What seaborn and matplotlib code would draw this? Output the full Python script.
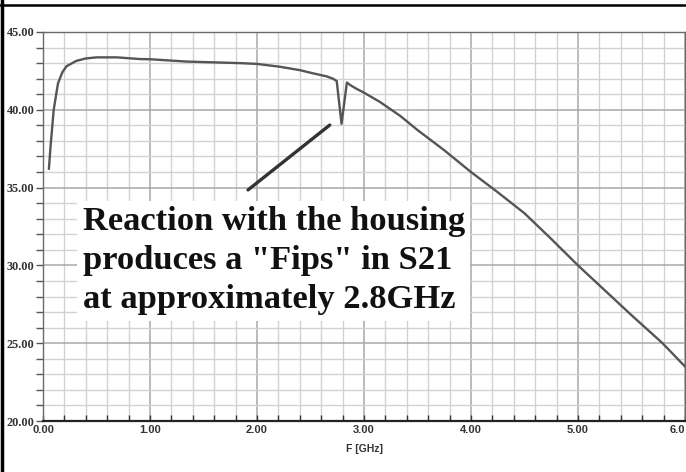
"""
S21 plot with the housing resonance ("Fips") near 2.8 GHz.
"""

#Libraries
import matplotlib
matplotlib.use("Agg")
import numpy as np
import pandas as pd
import matplotlib.pyplot as plt
import seaborn as sns
from matplotlib.ticker import MultipleLocator, FormatStrFormatter
from matplotlib.lines import Line2D

#Data.
freq_ghz = [0.055, 0.07, 0.1, 0.14, 0.18, 0.22, 0.31, 0.4, 0.5, 0.69, 0.91, 1.0, 1.34,
            1.84, 2.0, 2.21, 2.4, 2.52, 2.65, 2.71, 2.745, 2.79, 2.84, 2.88, 2.93,
            3.0, 3.15, 3.34, 3.5, 3.75, 4.0, 4.25, 4.5, 4.75, 5.0, 5.25, 5.5,
            5.79, 6.0]
s21_db = [36.2, 37.6, 40.0, 41.7, 42.4, 42.8, 43.14, 43.3, 43.37, 43.37, 43.26, 43.25, 43.1,
          43.0, 42.95, 42.77, 42.55, 42.35, 42.15, 42.0, 41.85, 39.1, 41.75, 41.55, 41.35,
          41.1, 40.5, 39.6, 38.7, 37.4, 36.0, 34.7, 33.35, 31.7, 30.0, 28.4, 26.8,
          25.0, 23.5]

x_ticks = [0.0, 1.0, 2.0, 3.0, 4.0, 5.0, 6.0]
x_tick_labels = ["0.00", "1.00", "2.00", "3.00", "4.00", "5.00", "6.0"]

note_text = 'Reaction with the housing\nproduces a "Fips" in S21\nat approximately 2.8GHz'
pointer_start = (1.916, 34.85)
pointer_end = (2.68, 39.02)

df = pd.DataFrame({"F [GHz]": freq_ghz, "S21": s21_db})

sns.set_theme(style="white")
plt.rcParams['font.family'] = ['DejaVu Sans']

fig = plt.figure(figsize=(6.86, 4.72), dpi=100)
ax = fig.add_axes([43 / 686, 51 / 472, 642 / 686, 389 / 472])

#Grid: light minor lines, slightly darker major ones.
ax.xaxis.set_major_locator(MultipleLocator(1.0))
ax.xaxis.set_minor_locator(MultipleLocator(0.2))
ax.yaxis.set_major_locator(MultipleLocator(5.0))
ax.yaxis.set_minor_locator(MultipleLocator(1.0))
ax.grid(which="minor", color="#d2d2d2", linewidth=1.0)
ax.grid(which="major", color="#a8a8a8", linewidth=1.1)
ax.set_axisbelow(True)

sns.lineplot(data=df, x="F [GHz]", y="S21", ax=ax, color="#555555", linewidth=1.7, zorder=3)

ax.set_xlim(0, 6.0)
ax.set_ylim(20, 45)
ax.set_xticks(x_ticks)
ax.set_xticklabels(x_tick_labels, fontsize=8, fontweight="bold", color="#333333",
                   family="Liberation Sans")
ax.get_xticklabels()[-1].set_horizontalalignment("right")
ax.yaxis.set_major_formatter(FormatStrFormatter("%.2f"))
for lab in ax.get_yticklabels():
    lab.set_fontsize(8.8)
    lab.set_fontweight("bold")
    lab.set_family("Liberation Serif")
    lab.set_color("#333333")

ax.tick_params(axis="y", which="both", direction="out", length=5, width=1, color="#555555", pad=1, left=True)
ax.tick_params(axis="x", which="both", direction="in", length=4, width=1, color="#333333", pad=3, bottom=True)

ax.set_xlabel("F [GHz]", fontsize=7.5, fontweight="bold", color="#333333", family="Liberation Sans", labelpad=6)
ax.set_ylabel("")

for side in ["top", "right", "left"]:
    ax.spines[side].set_color("#6a6a6a")
    ax.spines[side].set_linewidth(1.0)
ax.spines["bottom"].set_color("#222222")
ax.spines["bottom"].set_linewidth(1.6)

#Pointer line and note.
ax.annotate("", xy=pointer_end, xytext=pointer_start,
            arrowprops=dict(arrowstyle="-", color="#333333", lw=2.4, shrinkA=0, shrinkB=0), zorder=4)
ax.text(0.37, 30.3, note_text, fontsize=24.8, fontweight="bold", family="Liberation Serif",
        color="#111111", ha="left", va="center", linespacing=1.34, zorder=5,
        bbox=dict(boxstyle="square,pad=0.15", facecolor="white", edgecolor="none"))

#Black frame at the top and left of the screenshot.
fig.add_artist(Line2D([0, 1], [1 - 4.5 / 472, 1 - 4.5 / 472], color="black", linewidth=1.8, transform=fig.transFigure))
fig.add_artist(Line2D([1.5 / 686, 1.5 / 686], [0, 1], color="black", linewidth=2.5, transform=fig.transFigure))

fig.savefig("out.png", dpi=100)
